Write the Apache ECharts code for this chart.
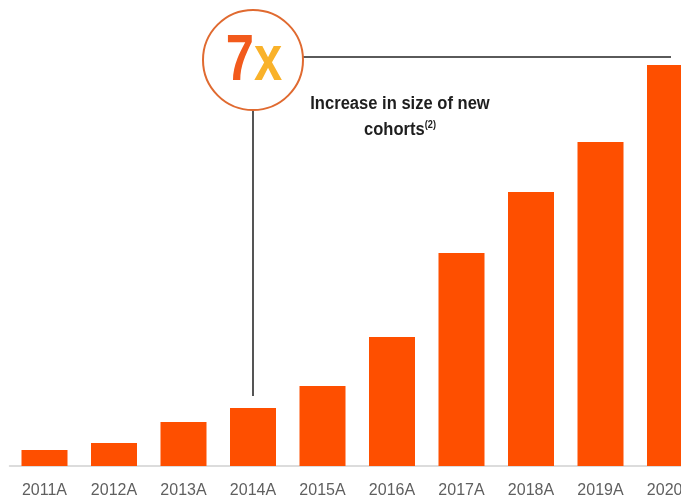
<!DOCTYPE html>
<html>
<head>
<meta charset="utf-8">
<script src="https://cdn.jsdelivr.net/npm/echarts@6/dist/echarts.min.js"></script>
<style>
  html, body { margin: 0; padding: 0; background: #ffffff; }
  #clip { width: 681px; height: 501px; overflow: hidden; position: relative; background: #fff; }
  #chart { width: 712px; height: 501px; }
</style>
</head>
<body>
<div id="clip"><div id="chart"></div></div>
<script>
// ---- data ----
const categories = ['2011A', '2012A', '2013A', '2014A', '2015A', '2016A', '2017A', '2018A', '2019A', '2020A'];
const cohortSize = [16, 23, 44, 58, 80, 129, 213, 274, 324, 401];
const baseCategory = '2014A';
const endCategory = '2020A';
const multipleText = ['7', 'x'];
const noteLine1 = 'Increase in size of new';
const noteLine2 = 'cohorts';
const noteSup = '(2)';

const FONT = "'Liberation Sans', Arial, sans-serif";
const chart = echarts.init(document.getElementById('chart'), null, { renderer: 'canvas' });

chart.setOption({
  backgroundColor: '#ffffff',
  animation: false,
  grid: { left: 9.75, width: 695, top: 46, bottom: 35, containLabel: false },
  xAxis: {
    type: 'category',
    data: categories,
    axisLine: { show: true, lineStyle: { color: '#dcdcdc', width: 2 } },
    axisTick: { show: false },
    axisLabel: {
      color: '#5f5f5f',
      fontSize: 16,
      fontFamily: FONT,
      margin: 17
    }
  },
  yAxis: {
    type: 'value', min: 0, max: 420,
    show: false,
    splitLine: { show: false }
  },
  series: [{
    type: 'bar',
    data: cohortSize,
    barWidth: 46,
    itemStyle: { color: '#FE4F00' }
  }]
});

// ---- annotation anchored to the data ----
const baseIdx = categories.indexOf(baseCategory);
const pBase = chart.convertToPixel({ seriesIndex: 0 }, [baseIdx, cohortSize[baseIdx]]);
const xEnd = chart.convertToPixel({ xAxisIndex: 0 }, categories.indexOf(endCategory));
const cx = pBase[0];
const cy = 60;
const r = 50;
const lineY = 57;

chart.setOption({
  graphic: [
    {
      type: 'line', z: 10,
      shape: { x1: cx, y1: cy + r, x2: cx, y2: pBase[1] - 12 },
      style: { stroke: '#555555', lineWidth: 2 }
    },
    {
      type: 'line', z: 10,
      shape: { x1: cx + r, y1: lineY, x2: xEnd + 1, y2: lineY },
      style: { stroke: '#5a5a5a', lineWidth: 2 }
    },
    {
      type: 'circle', z: 11,
      shape: { cx: cx, cy: cy, r: r },
      style: { fill: '#ffffff', stroke: '#E06A30', lineWidth: 2 }
    },
    {
      type: 'text', z: 12,
      x: cx + 1, y: cy + 2, scaleX: 0.78,
      style: {
        text: multipleText[0],
        fontSize: 65, fontWeight: 'bold',
        fontFamily: FONT,
        align: 'right', verticalAlign: 'middle',
        fill: '#F25A1C'
      }
    },
    {
      type: 'text', z: 12,
      x: cx + 1, y: cy + 2, scaleX: 0.78,
      style: {
        text: multipleText[1],
        fontSize: 65, fontWeight: 'bold',
        fontFamily: FONT,
        align: 'left', verticalAlign: 'middle',
        fill: '#F9B22A'
      }
    },
    {
      type: 'text', z: 12,
      x: cx + 147, y: 104, scaleX: 0.92,
      style: {
        text: noteLine1,
        fontSize: 18, fontWeight: 'bold',
        fontFamily: FONT,
        align: 'center', verticalAlign: 'middle',
        fill: '#1e1e1e'
      }
    },
    {
      type: 'text', z: 12,
      x: cx + 147, y: 130, scaleX: 0.92,
      style: {
        text: '{a|' + noteLine2 + '}{s|' + noteSup + '}',
        align: 'center', verticalAlign: 'middle',
        rich: {
          a: { fontSize: 18, fontWeight: 'bold', fill: '#1e1e1e', fontFamily: FONT },
          s: { fontSize: 10, fontWeight: 'bold', fill: '#1e1e1e', verticalAlign: 'top', padding: [0, 0, 9, 0], fontFamily: FONT }
        }
      }
    }
  ]
});
</script>
</body>
</html>
